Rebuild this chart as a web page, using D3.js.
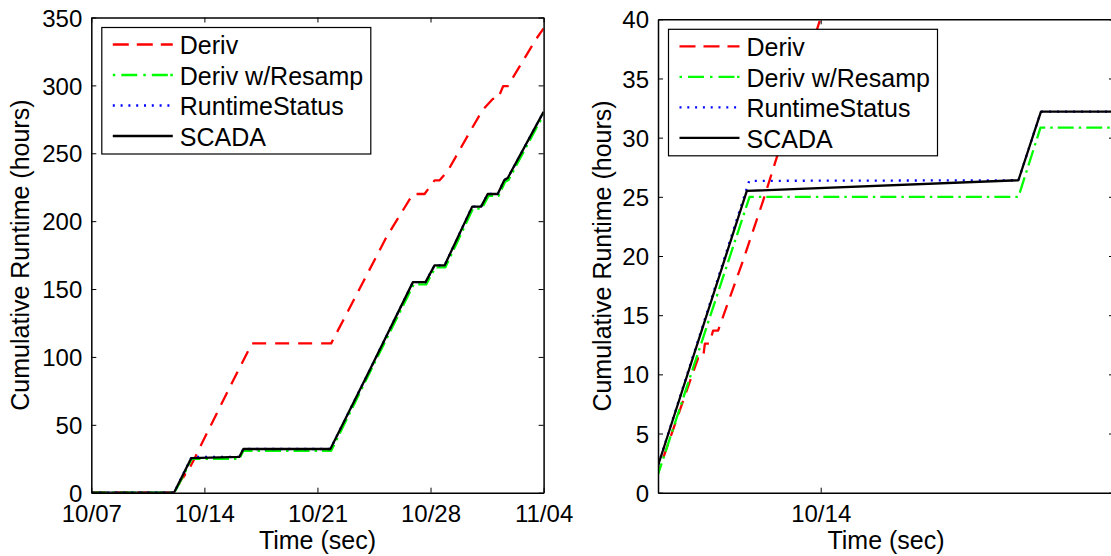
<!DOCTYPE html>
<html>
<head>
<meta charset="utf-8">
<script src="https://cdn.jsdelivr.net/npm/d3@7"></script>
<style>
  body { margin: 0; background: #fff; }
  svg { display: block; font-family: "Liberation Sans", Arial, Helvetica, sans-serif; }
</style>
</head>
<body>
<svg id="chart" width="1111" height="556"></svg>
<script>
// DATA  (days counted from 10/07 00:00, cumulative runtime in hours)
const seriesNames = ["Deriv", "Deriv w/Resamp", "RuntimeStatus", "SCADA"];

const derivDays = [0, 5.14, 5.62, 5.655, 5.71, 5.73, 5.78, 5.82, 5.875, 6.15, 6.37, 6.97, 8.79, 9.95,
  14.85, 16.82, 18.26, 19.91, 20.63, 21.25, 21.55, 22.07, 23.4, 24.23, 24.85, 25.16, 25.5, 25.78, 27.53, 28];
const derivHours = [0, 0, 10.6, 11.35, 11.35, 12.6, 12.6, 13.7, 13.7, 19.65, 24.7, 39.4, 82.8, 110,
  110, 155, 188, 220, 220, 230, 230, 237, 265, 282, 290, 290, 299.5, 299.5, 334, 342];

const resampDays = [0, 5.15, 6.22, 9.168, 9.41, 14.85, 17.3, 19.96, 20.74, 21.3, 21.92, 23.63, 24.18,
  24.59, 25.21, 25.62, 25.83, 28];
const resampHours = [0, 0, 25.0, 25.0, 30.85, 30.85, 90, 153.5, 153.5, 166, 166, 209.3, 209.3,
  218.6, 218.6, 229, 230.4, 278.5];

const statusDays = [0, 5.12, 6.216, 9.168, 9.415, 14.8, 17.23, 19.91, 20.69, 21.25, 21.87, 23.58, 24.13,
  24.54, 25.16, 25.57, 25.78, 28];
const statusHours = [0, 0, 26.35, 26.4, 32.2, 32.2, 90.2, 155.1, 155.1, 167.4, 167.4, 210.7, 210.7,
  220, 220, 230.3, 231.8, 280.5];

const scadaDays = [0, 5.12, 6.19, 9.168, 9.415, 14.8, 17.23, 19.91, 20.69, 21.25, 21.87, 23.58, 24.13,
  24.54, 25.16, 25.57, 25.78, 28];
const scadaHours = [0, 0, 25.5, 26.4, 32.2, 32.2, 90.2, 155.1, 155.1, 167.4, 167.4, 210.7, 210.7,
  220, 220, 230.3, 231.8, 280.5];

const leftXTicks = [0, 7, 14, 21, 28];
const leftXTickLabels = ["10/07", "10/14", "10/21", "10/28", "11/04"];
const leftYTicks = [0, 50, 100, 150, 200, 250, 300, 350];

const rightXTicks = [7];
const rightXTickLabels = ["10/14"];
const rightYTicks = [0, 5, 10, 15, 20, 25, 30, 35, 40];

// STYLES
const styles = {
  "Deriv": { color: "#ff0000", dash: "14,9", legendDash: "16,8" },
  "Deriv w/Resamp": { color: "#00ff00", dash: "16,5,2.5,5", legendDash: "2.5,6,16,6,2.5,6,16" },
  "RuntimeStatus": { color: "#0000ff", dash: "2,6", legendDash: "2,5.8" },
  "SCADA": { color: "#000000", dash: null, legendDash: null },
};

const series = [
  { name: seriesNames[0], pts: derivDays.map((d, i) => [d, derivHours[i]]) },
  { name: seriesNames[1], pts: resampDays.map((d, i) => [d, resampHours[i]]) },
  { name: seriesNames[2], pts: statusDays.map((d, i) => [d, statusHours[i]]) },
  { name: seriesNames[3], pts: scadaDays.map((d, i) => [d, scadaHours[i]]) },
];

const svg = d3.select("#chart");
const TICK_FONT = 24;
const LABEL_FONT = 25;

function drawPanel(id, o) {
  const x = d3.scaleLinear().domain(o.xDomain).range([o.left, o.right]);
  const y = d3.scaleLinear().domain(o.yDomain).range([o.bottom, o.top]);
  const g = svg.append("g").attr("id", id);

  g.append("clipPath").attr("id", id + "clip")
    .append("rect")
    .attr("x", o.left).attr("y", o.top)
    .attr("width", o.right - o.left).attr("height", o.bottom - o.top);

  const line = d3.line().x((d) => x(d[0])).y((d) => y(d[1]));

  g.append("g").attr("clip-path", `url(#${id}clip)`)
    .selectAll("path")
    .data(series)
    .join("path")
    .attr("d", (d) => line(d.pts))
    .attr("fill", "none")
    .attr("stroke", (d) => styles[d.name].color)
    .attr("stroke-width", 2.3)
    .attr("stroke-dasharray", (d) => styles[d.name].dash)
    .attr("stroke-linejoin", "round");

  // axes, ticks pointing inward on all four sides
  const gx = g.append("g").attr("transform", `translate(0,${o.bottom})`)
    .call(d3.axisBottom(x).tickValues(o.xTicks).tickFormat((d, i) => o.xTickLabels[i])
      .tickSizeInner(-5).tickSizeOuter(0).tickPadding(12));
  const gxt = g.append("g").attr("transform", `translate(0,${o.top})`)
    .call(d3.axisTop(x).tickValues(o.xTicks).tickFormat("").tickSizeInner(-5).tickSizeOuter(0));
  const gy = g.append("g").attr("transform", `translate(${o.left},0)`)
    .call(d3.axisLeft(y).tickValues(o.yTicks).tickFormat(d3.format("d"))
      .tickSizeInner(-5).tickSizeOuter(0).tickPadding(9));
  const gyr = g.append("g").attr("transform", `translate(${o.right},0)`)
    .call(d3.axisRight(y).tickValues(o.yTicks).tickFormat("").tickSizeInner(-5).tickSizeOuter(0));

  [gx, gxt, gy, gyr].forEach((a) => {
    a.attr("font-family", null).attr("font-size", null);
    a.select(".domain").attr("stroke", "#000").attr("stroke-width", 1.5);
    a.selectAll(".tick line").attr("stroke", "#000").attr("stroke-width", 1);
    a.selectAll(".tick text").attr("fill", "#000").style("font-size", TICK_FONT + "px");
  });
  gy.selectAll(".tick text").attr("dy", "0.36em");

  g.append("text")
    .attr("x", (o.left + o.right) / 2).attr("y", 549)
    .attr("text-anchor", "middle")
    .style("font-size", LABEL_FONT + "px")
    .text("Time (sec)");

  g.append("text")
    .attr("transform", `translate(${o.yLabelX},${(o.top + o.bottom) / 2}) rotate(-90)`)
    .attr("dy", "0.36em")
    .attr("text-anchor", "middle")
    .style("font-size", LABEL_FONT + "px")
    .text("Cumulative Runtime (hours)");

  // LEGEND
  const lg = g.append("g").attr("transform", `translate(${o.left + 10.5},${o.top + 10})`);
  lg.append("rect")
    .attr("width", 269).attr("height", 126.5)
    .attr("fill", "#fff").attr("stroke", "#000").attr("stroke-width", 1.2);
  const item = lg.selectAll("g.item").data(seriesNames).join("g")
    .attr("class", "item")
    .attr("transform", (d, i) => `translate(0,${17 + i * 30.5})`);
  item.append("line")
    .attr("x1", 11).attr("x2", 71)
    .attr("stroke", (d) => styles[d].color)
    .attr("stroke-width", 2.3)
    .attr("stroke-dasharray", (d) => styles[d].legendDash);
  item.append("text")
    .attr("x", 78).attr("y", 9.8)
    .style("font-size", LABEL_FONT + "px")
    .text((d) => d);
}

drawPanel("left", {
  left: 91.3, right: 543.6, top: 17.5, bottom: 492.7,
  xDomain: [0, 28], yDomain: [0, 350],
  xTicks: leftXTicks, xTickLabels: leftXTickLabels, yTicks: leftYTicks,
  yLabelX: 20,
});

drawPanel("right", {
  left: 658, right: 1114, top: 19.3, bottom: 492.7,
  xDomain: [5.216, 10.216], yDomain: [0, 40],
  xTicks: rightXTicks, xTickLabels: rightXTickLabels, yTicks: rightYTicks,
  yLabelX: 602,
});
</script>
</body>
</html>
